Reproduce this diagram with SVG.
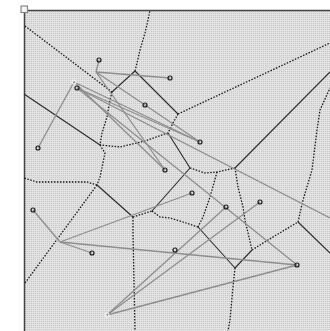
<svg xmlns="http://www.w3.org/2000/svg" width="330" height="331" viewBox="0 0 330 331">
<defs>
<pattern id="grid" x="0" y="0" width="2" height="2" patternUnits="userSpaceOnUse">
<rect width="2" height="2" fill="#c6c6c6"/>
<rect width="2" height="1" fill="#e2e2e2"/>
<rect width="1" height="2" fill="#e2e2e2"/>
</pattern>
<style>
.vd{fill:none;stroke:#1a1a1a;stroke-width:1.3;stroke-dasharray:1.5 1.5}
.vs{fill:none;stroke:#2a2a2a;stroke-width:1.1}
.g{fill:none;stroke:#8e8e8e;stroke-width:1.3}
.s{fill:none;stroke:#1a1a1a;stroke-width:1.2}
.sl{fill:none;stroke:#f0f0f0;stroke-width:1.2}
</style>
</defs>
<rect width="330" height="331" fill="#ffffff"/>
<rect x="24" y="10" width="306" height="321" fill="url(#grid)"/>
<line x1="24" y1="10.5" x2="330" y2="10.5" stroke="#444" stroke-width="1.5"/>
<line x1="24.5" y1="10" x2="24.5" y2="331" stroke="#444" stroke-width="1.5"/>
<rect x="21" y="6" width="6.5" height="6.5" fill="#f4f4f4" stroke="#888" stroke-width="1.2"/>
<g id="voronoi">
<path class="vd" d="M25,26 L112,92"/>
<path class="vs" d="M112,92 L135,71"/>
<path class="vd" d="M135,71 L137,63 L140,50 L145,33 L148,20 L150,10"/>
<path class="vs" d="M135,71 L178,114"/>
<path class="vd" d="M178,114 L330,43"/>
<path class="vd" d="M178,114 L173,123 L168,133"/>
<path class="vd" d="M168,133 L145,141 L120,147 L100,145"/>
<path class="vd" d="M112,92 L110,100 L107,117 L102,133 L100,145"/>
<path class="vs" d="M24,94 L100,145"/>
<path class="vd" d="M100,145 L105,153 L100,177 L97,185"/>
<path class="vd" d="M97,185 L87,182 L37,182 L24,178"/>
<path class="vd" d="M97,185 L25,283"/>
<path class="vs" d="M97,185 L133,217"/>
<path class="vd" d="M133,217 L133,233 L135,331"/>
<path class="vd" d="M133,217 L152,211"/>
<path class="vs" d="M152,211 L190,168"/>
<path class="vs" d="M168,133 L190,168"/>
<path class="vd" d="M190,168 L205,173 L217,172 L235,168"/>
<path class="vd" d="M152,211 L160,217 L170,218 L183,222 L198,227"/>
<path class="vd" d="M217,172 L210,197 L203,217 L198,227"/>
<path class="vs" d="M198,227 L235,268"/>
<path class="vd" d="M235,268 L233,287 L230,320 L228,331"/>
<path class="vs" d="M235,168 L330,72"/>
<path class="vd" d="M235,168 L238,187 L243,207 L245,220 L252,250"/>
<path class="vs" d="M235,268 L252,250"/>
<path class="vd" d="M252,250 L268,240 L298,222"/>
<path class="vs" d="M298,222 L330,253"/>
<path class="vd" d="M298,222 L303,200 L312,170 L317,130 L320,110 L330,88"/>
</g>
<g id="connectors">
<path class="g" d="M99,60 L96,72"/>
<path class="g" d="M96,72 L170,78"/>
<path class="g" d="M96,72 L200,142"/>
<path class="g" d="M96,72 L165,170"/>
<path class="g" d="M74,82 L165,170"/>
<path class="g" d="M74,82 L200,142"/>
<path class="g" d="M77,88 L200,142"/>
<path class="g" d="M74,82 L38,148"/>
<path class="g" d="M77,88 L330,218"/>
<path class="g" d="M77,88 L297,265"/>
<path class="g" d="M33,210 L60,242"/>
<path class="g" d="M60,242 L92,253"/>
<path class="g" d="M60,242 L192,193"/>
<path class="g" d="M60,242 L297,265"/>
<path class="g" d="M107,315 L226,207"/>
<path class="g" d="M107,315 L260,202"/>
<path class="g" d="M107,315 L297,265"/>
</g>
<g id="n1"><circle class="s" cx="99" cy="60" r="2"/></g>
<g id="n2"><circle class="s" cx="170" cy="78" r="2"/></g>
<g id="n3"><circle class="sl" cx="74" cy="82" r="2"/></g>
<g id="n4"><circle class="s" cx="77" cy="88" r="2"/></g>
<g id="n5"><circle class="s" cx="145" cy="105" r="2"/></g>
<g id="n6"><circle class="s" cx="200" cy="142" r="2"/></g>
<g id="n7"><circle class="s" cx="38" cy="148" r="2"/></g>
<g id="n8"><circle class="s" cx="165" cy="170" r="2"/></g>
<g id="n9"><circle class="s" cx="192" cy="193" r="2"/></g>
<g id="n10"><circle class="s" cx="226" cy="207" r="2"/></g>
<g id="n11"><circle class="s" cx="260" cy="202" r="2"/></g>
<g id="n12"><circle class="s" cx="33" cy="210" r="2"/></g>
<g id="n13"><circle class="s" cx="92" cy="253" r="2"/></g>
<g id="n14"><circle class="s" cx="175" cy="250" r="2"/></g>
<g id="n15"><circle class="s" cx="297" cy="265" r="2"/></g>
<g id="n16"><circle class="sl" cx="107" cy="315" r="2"/></g>
</svg>
